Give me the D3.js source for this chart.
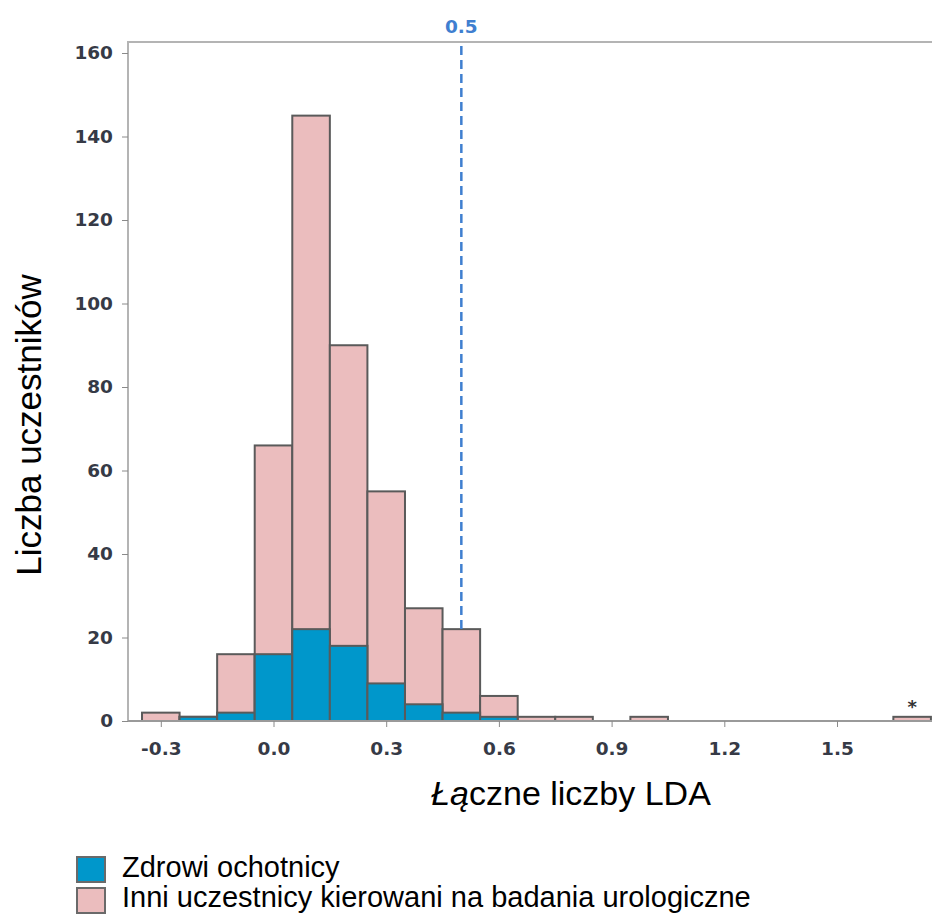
<!DOCTYPE html>
<html>
<head>
<meta charset="utf-8">
<script src="https://cdn.jsdelivr.net/npm/d3@7"></script>
<style>
  body { margin: 0; background: #fff; }
  svg { display: block; }
</style>
</head>
<body>
<svg id="chart" width="932" height="916"></svg>
<script>
// bin centres (width 0.1) and counts
const bins = [-0.3, -0.2, -0.1, 0.0, 0.1, 0.2, 0.3, 0.4, 0.5, 0.6, 0.7, 0.8, 0.9, 1.0, 1.1, 1.2, 1.3, 1.4, 1.5, 1.6, 1.7];
const healthy = [0, 1, 2, 16, 22, 18, 9, 4, 2, 1, 0, 0, 0, 0, 0, 0, 0, 0, 0, 0, 0];
const others  = [2, 0, 14, 50, 123, 72, 46, 23, 20, 5, 1, 1, 0, 1, 0, 0, 0, 0, 0, 0, 1];
const xTicks = [-0.3, 0.0, 0.3, 0.6, 0.9, 1.2, 1.5];
const yTicks = [0, 20, 40, 60, 80, 100, 120, 140, 160];
const cutoff = 0.5;
const outlierBin = 1.7;
const legendLabels = ["Zdrowi ochotnicy", "Inni uczestnicy kierowani na badania urologiczne"];

const col_blue = "#0097cb", col_pink = "#ebbdbe", col_edge = "#5a5a5a";
const tick_font = "font-family:'DejaVu Sans'; font-weight:bold; font-size:18.5px; fill:#363a46";
const bw = 0.1;

const svg = d3.select("#chart");
const x = d3.scaleLinear().domain([0, 1.5]).range([273.5, 837]);
const y = d3.scaleLinear().domain([0, 160]).range([721, 53]);
const plotL = 128, plotT = 42, plotR = 932;

// frame (top + left), grey
svg.append("path")
    .attr("d", "M" + plotL + "," + y(0) + "V" + plotT + "H" + plotR)
    .attr("style", "fill:none; stroke:#b4b4b4; stroke-width:2");

// stacked bars
const rows = bins.map((b, i) => ({ b: b, h: healthy[i], o: others[i] }));
const g = svg.append("g");
g.selectAll(".pink").data(rows.filter(d => d.h + d.o > 0)).join("rect").classed("pink", true)
    .attr("x", d => x(d.b - bw / 2)).attr("width", d => x(d.b + bw / 2) - x(d.b - bw / 2))
    .attr("y", d => y(d.h + d.o)).attr("height", d => y(0) - y(d.h + d.o))
    .attr("style", "fill:" + col_pink + "; stroke:" + col_edge + "; stroke-width:2");
g.selectAll(".blue").data(rows.filter(d => d.h > 0)).join("rect").classed("blue", true)
    .attr("x", d => x(d.b - bw / 2)).attr("width", d => x(d.b + bw / 2) - x(d.b - bw / 2))
    .attr("y", d => y(d.h)).attr("height", d => y(0) - y(d.h))
    .attr("style", "fill:" + col_blue + "; stroke:" + col_edge + "; stroke-width:2");

// x axis
const xa = svg.append("g").attr("transform", "translate(0," + y(0) + ")")
    .call(d3.axisBottom(x).tickValues(xTicks).tickSize(6).tickPadding(15));
xa.select(".domain").attr("d", "M" + plotL + ",0H" + plotR).attr("stroke", "#9a9a9a").attr("stroke-width", 2);
xa.selectAll(".tick line").attr("stroke", "#8a8a8a");
xa.selectAll(".tick text").attr("style", tick_font)
    .text(d => d < 0 ? "-" + Math.abs(d).toFixed(1) : d.toFixed(1));

// y axis
const ya = svg.append("g").attr("transform", "translate(" + plotL + ",0)")
    .call(d3.axisLeft(y).tickValues(yTicks).tickSize(6).tickPadding(9));
ya.select(".domain").remove();
ya.selectAll(".tick line").attr("stroke", "#8a8a8a");
ya.selectAll(".tick text").attr("style", tick_font);

// cut-off line
svg.append("line")
    .attr("x1", x(cutoff)).attr("x2", x(cutoff)).attr("y1", plotT + 4).attr("y2", y(others[8] + healthy[8]))
    .attr("style", "stroke:#3f7fd0; stroke-width:2.5; stroke-dasharray:9,5");
svg.append("text").attr("x", x(cutoff)).attr("y", 33).attr("text-anchor", "middle")
    .attr("style", "font-family:'DejaVu Sans'; font-weight:bold; font-size:18.5px; fill:#3f7fd0")
    .text(d3.format(".1f")(cutoff));

// outlier mark
svg.append("text").attr("x", x(outlierBin)).attr("y", y(others[20]) - 4).attr("text-anchor", "middle")
    .attr("style", "font-family:'DejaVu Sans'; font-weight:bold; font-size:18px; fill:#333")
    .text("*");

// axis titles
svg.append("text").attr("transform", "translate(41,425) rotate(-90)").attr("text-anchor", "middle")
    .attr("style", "font-family:'Liberation Sans'; font-size:35px; fill:#000")
    .text("Liczba uczestników");
const xt = svg.append("text").attr("x", 571).attr("y", 805).attr("text-anchor", "middle")
    .attr("style", "font-family:'Liberation Sans'; font-size:34px; fill:#000");
xt.append("tspan").attr("font-style", "italic").text("Łą");
xt.append("tspan").text("czne liczby LDA");

// legend
const lg = svg.append("g").attr("transform", "translate(77,857)");
[col_blue, col_pink].forEach((c, i) => {
    lg.append("rect").attr("x", 0).attr("y", i * 31).attr("width", 28).attr("height", 25)
        .attr("style", "fill:" + c + "; stroke:#6a6a6a; stroke-width:2");
    lg.append("text").attr("x", 45).attr("y", i * 30 + 20)
        .attr("style", "font-family:'Liberation Sans'; font-size:29px; fill:#000")
        .text(legendLabels[i]);
});
</script>
</body>
</html>
